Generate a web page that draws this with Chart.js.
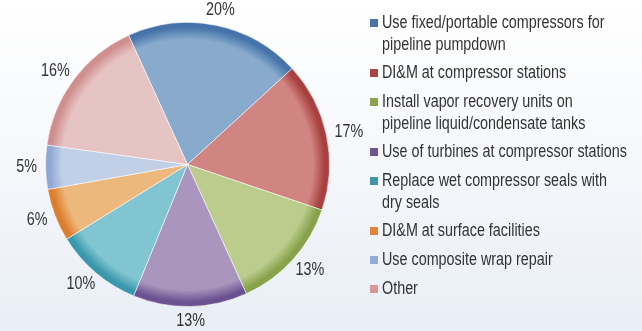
<!DOCTYPE html>
<html>
<head>
<meta charset="utf-8">
<script src="https://cdn.jsdelivr.net/npm/chart.js@4/dist/chart.umd.min.js"></script>
<style>
  html, body { margin: 0; padding: 0; }
  body {
    width: 642px; height: 331px; overflow: hidden; position: relative;
    background: linear-gradient(to bottom, #ffffff 0%, #f6f8fb 45%, #e9eef6 100%);
    font-family: 'Liberation Sans', Arial, sans-serif;
  }
  #wrap { position: absolute; left: 0; top: 0; width: 642px; height: 331px; }
  #legend {
    position: absolute; left: 370px; top: 12px; margin: 0; padding: 0; list-style: none;
    font-size: 17.5px; line-height: 21.5px; color: #333;
  }
  #legend li { position: relative; padding-left: 12px; margin-bottom: 7.3px; white-space: nowrap; }
  #legend li span.box { position: absolute; left: 0; top: 7px; width: 8px; height: 8px; }
  #legend li span.txt { display: inline-block; transform: scaleX(0.82); transform-origin: 0 0; }
</style>
</head>
<body>
<div id="wrap"><canvas id="c" width="642" height="331"></canvas></div>
<ul id="legend"></ul>
<script>
// Methane reduction opportunities: share of total, in percent
const categories = [
  ['Use fixed/portable compressors for', 'pipeline pumpdown'],
  ['DI&M at compressor stations'],
  ['Install vapor recovery units on', 'pipeline liquid/condensate tanks'],
  ['Use of turbines at compressor stations'],
  ['Replace wet compressor seals with', 'dry seals'],
  ['DI&M at surface facilities'],
  ['Use composite wrap repair'],
  ['Other']
];
const shares = [20, 17, 13, 13, 10, 6, 5, 16];

// slice shading: inner tone and rim tone
const innerColors = ['#87aacd', '#d18583', '#bbcc8d', '#a995bd', '#81c5d2', '#edb87b', '#c2d0e7', '#e6c4c3'];
const rimColors   = ['#4673a9', '#a8403f', '#87a24a', '#6a5190', '#3a98ad', '#dd7d2e', '#91a8d6', '#cf8f8e'];
const markerColors = ['#4a71a8', '#a84442', '#8aa44c', '#6e5693', '#3f96ab', '#e0843a', '#93a9d6', '#d99695'];

const NARROW = 0.82; // horizontal squeeze for a narrow sans face

function sliceFill(ctx) {
  const chart = ctx.chart;
  const area = chart.chartArea;
  const i = ctx.dataIndex;
  if (!area) return innerColors[i];
  const cx = (area.left + area.right) / 2;
  const cy = (area.top + area.bottom) / 2;
  const r = Math.min(area.right - area.left, area.bottom - area.top) / 2;
  const g = chart.ctx.createRadialGradient(cx, cy, 0, cx, cy, r);
  g.addColorStop(0, innerColors[i]);
  g.addColorStop(0.88, innerColors[i]);
  g.addColorStop(0.965, rimColors[i]);
  g.addColorStop(1, rimColors[i]);
  return g;
}

// percentage labels just outside each slice
const outsideLabels = {
  id: 'outsideLabels',
  afterDatasetsDraw(chart) {
    const c = chart.ctx;
    const meta = chart.getDatasetMeta(0);
    c.save();
    c.font = '17.5px "Liberation Sans", Arial, sans-serif';
    c.fillStyle = '#333';
    c.textAlign = 'center';
    c.textBaseline = 'middle';
    meta.data.forEach((arc, i) => {
      const p = arc.getProps(['x', 'y', 'startAngle', 'endAngle', 'outerRadius'], true);
      const mid = (p.startAngle + p.endAngle) / 2;
      const text = shares[i] + '%';
      const w = c.measureText(text).width * NARROW;
      const h = 13;
      const d = p.outerRadius + 8.5;
      const px = p.x + Math.cos(mid) * d + Math.cos(mid) * w / 2;
      const py = p.y + Math.sin(mid) * d + Math.sin(mid) * h / 2;
      c.save();
      c.translate(px, py);
      c.scale(NARROW, 1);
      c.fillText(text, 0, 0);
      c.restore();
    });
    c.restore();
  }
};

const chart = new Chart(document.getElementById('c'), {
  type: 'pie',
  data: {
    labels: categories,
    datasets: [{
      data: shares,
      backgroundColor: sliceFill,
      borderColor: 'rgba(255,255,255,0.55)',
      borderWidth: 1
    }]
  },
  options: {
    responsive: false,
    animation: false,
    rotation: -24.5,
    layout: { padding: { left: 45, right: 312, top: 22, bottom: 24 } },
    plugins: {
      legend: { display: false },
      tooltip: { enabled: false }
    }
  },
  plugins: [outsideLabels]
});

// legend list built from the same categories
const ul = document.getElementById('legend');
categories.forEach((lines, i) => {
  const li = document.createElement('li');
  const box = document.createElement('span');
  box.className = 'box';
  box.style.background = markerColors[i];
  li.appendChild(box);
  const txt = document.createElement('span');
  txt.className = 'txt';
  lines.forEach((line, k) => {
    if (k > 0) txt.appendChild(document.createElement('br'));
    txt.appendChild(document.createTextNode(line));
  });
  li.appendChild(txt);
  ul.appendChild(li);
});
</script>
</body>
</html>
